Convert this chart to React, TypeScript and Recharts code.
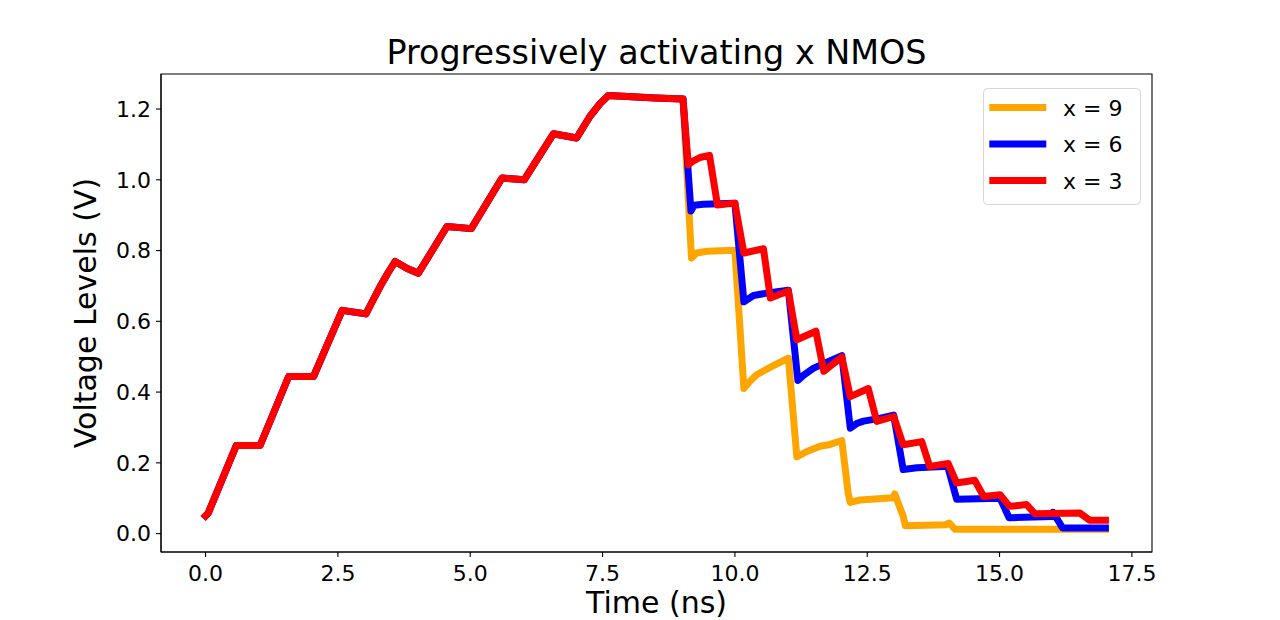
import React from 'react';
import { LineChart, Line, XAxis, YAxis, Legend, Label, ReferenceArea } from 'recharts';

// Shared ramp (all three series identical until ~9 ns)
const RAMP_T = [0.0, 0.05, 0.58, 1.03, 1.57, 2.04, 2.58, 3.03, 3.15, 3.30, 3.45, 3.58, 3.80, 4.02, 4.56, 5.02, 5.60, 6.02, 6.57, 7.01, 7.26, 7.45, 7.61, 8.50, 9.02];
const RAMP_V = [0.050, 0.058, 0.249, 0.249, 0.444, 0.444, 0.631, 0.621, 0.656, 0.699, 0.738, 0.769, 0.750, 0.736, 0.868, 0.862, 1.005, 1.000, 1.130, 1.118, 1.179, 1.215, 1.238, 1.231, 1.228];

// x = 9 (orange)
const X9_T = [9.18, 9.28, 9.47, 10.00, 10.17, 10.28, 10.41, 10.73, 11.01, 11.17, 11.36, 11.61, 11.80, 12.02, 12.14, 12.18, 12.36, 12.99, 13.02, 13.18, 13.22, 13.98, 14.05, 14.16, 17.0];
const X9_V = [0.779, 0.793, 0.798, 0.801, 0.410, 0.430, 0.449, 0.475, 0.496, 0.217, 0.232, 0.247, 0.252, 0.263, 0.115, 0.088, 0.095, 0.101, 0.112, 0.049, 0.022, 0.025, 0.030, 0.012, 0.012];

// x = 6 (blue)
const X6_T = [9.17, 9.23, 9.40, 10.00, 10.17, 10.35, 10.66, 11.01, 11.19, 11.30, 11.48, 11.73, 12.02, 12.18, 12.30, 12.43, 12.71, 13.00, 13.18, 13.44, 14.02, 14.19, 15.01, 15.18, 15.98, 16.01, 16.19, 17.0];
const X6_V = [0.912, 0.928, 0.931, 0.934, 0.655, 0.673, 0.681, 0.688, 0.433, 0.448, 0.467, 0.484, 0.503, 0.298, 0.311, 0.318, 0.325, 0.335, 0.181, 0.186, 0.190, 0.097, 0.100, 0.045, 0.048, 0.060, 0.016, 0.016];

// x = 3 (red)
const X3_T = [9.12, 9.20, 9.34, 9.52, 9.67, 10.00, 10.17, 10.54, 10.67, 11.01, 11.17, 11.53, 11.68, 12.02, 12.18, 12.52, 12.68, 13.00, 13.18, 13.53, 13.68, 14.03, 14.19, 14.53, 14.70, 15.01, 15.19, 15.51, 15.67, 16.52, 16.70, 17.0];
const X3_V = [1.042, 1.052, 1.063, 1.069, 0.929, 0.934, 0.793, 0.805, 0.666, 0.686, 0.548, 0.572, 0.459, 0.499, 0.387, 0.410, 0.317, 0.331, 0.251, 0.260, 0.190, 0.198, 0.143, 0.151, 0.105, 0.110, 0.077, 0.082, 0.056, 0.058, 0.038, 0.038];

const X_TICKS = [0, 2.5, 5, 7.5, 10, 12.5, 15, 17.5];
const Y_TICKS = [0, 0.2, 0.4, 0.6, 0.8, 1.0, 1.2];
const X_DOMAIN = [-0.842, 17.88];
const Y_DOMAIN = [-0.052, 1.299];

const TITLE = 'Progressively activating x NMOS';
const X_LABEL = 'Time (ns)';
const Y_LABEL = 'Voltage Levels (V)';

const SERIES = [
  { name: 'x = 9', color: '#ffa500', t: X9_T, v: X9_V },
  { name: 'x = 6', color: '#0000ff', t: X6_T, v: X6_V },
  { name: 'x = 3', color: '#ff0000', t: X3_T, v: X3_V },
];

const build = (t: number[], v: number[]) => {
  const pts = RAMP_T.map((x, i) => ({ t: x, v: RAMP_V[i] }));
  t.forEach((x, i) => pts.push({ t: x, v: v[i] }));
  return pts;
};

const FONT = '"DejaVu Sans", sans-serif';
const tickStyle = { fontFamily: FONT, fontSize: 22, fill: '#000' };
const axisLine = { stroke: '#000', strokeWidth: 1.1 };
const tickLine = { stroke: '#000', strokeWidth: 1.1 };

const LegendBox = () => (
  <svg width={158} height={117} style={{ display: 'block' }}>
    <rect x={0.5} y={0.5} width={157} height={116} rx={4} ry={4} fill="rgba(255,255,255,0.8)" stroke="#d6d6d6" strokeWidth={1} />
    {SERIES.map((s, i) => {
      const y = 19.6 + i * 36.5;
      return (
        <g key={s.name}>
          <line x1={6.3} x2={63.3} y1={y} y2={y} stroke={s.color} strokeWidth={7} />
          <text x={80} y={y + 8} fontFamily={FONT} fontSize={22} fill="#000">{s.name}</text>
        </g>
      );
    })}
  </svg>
);

export default function App() {
  return (
    <div style={{ position: 'absolute', left: 0, top: 0, width: 1280, height: 620, background: '#fff' }}>
      <LineChart width={1280} height={620} margin={{ top: 74, right: 128, bottom: 0, left: 0 }}>
        <XAxis
          xAxisId="b"
          dataKey="t"
          type="number"
          domain={X_DOMAIN}
          ticks={X_TICKS}
          allowDataOverflow
          tickFormatter={(v: number) => v.toFixed(1)}
          tick={tickStyle}
          tickSize={5}
          tickMargin={8}
          axisLine={axisLine}
          tickLine={tickLine}
          height={68}
        >
          <Label
            content={(p: any) => {
              const vb = p.viewBox;
              return (
                <text x={vb.x + vb.width / 2} y={613} textAnchor="middle" fontFamily={FONT} fontSize={30} fill="#000">
                  {X_LABEL}
                </text>
              );
            }}
          />
        </XAxis>
        <YAxis
          yAxisId="l"
          type="number"
          domain={Y_DOMAIN}
          ticks={Y_TICKS}
          allowDataOverflow
          tickFormatter={(v: number) => v.toFixed(1)}
          tick={tickStyle}
          tickSize={5}
          tickMargin={5}
          axisLine={axisLine}
          tickLine={tickLine}
          width={161}
        >
          <Label
            content={(p: any) => {
              const vb = p.viewBox;
              const cy = vb.y + vb.height / 2;
              return (
                <text x={96} y={cy} transform={`rotate(-90, 96, ${cy})`} textAnchor="middle" fontFamily={FONT} fontSize={30} fill="#000">
                  {Y_LABEL}
                </text>
              );
            }}
          />
        </YAxis>
        <ReferenceArea
          xAxisId="b"
          yAxisId="l"
          x1={X_DOMAIN[0]}
          x2={X_DOMAIN[1]}
          y1={Y_DOMAIN[0]}
          y2={Y_DOMAIN[1]}
          fill="none"
          fillOpacity={0}
          stroke="#000"
          strokeWidth={1.1}
          ifOverflow="extendDomain"
        >
          <Label
            content={(p: any) => {
              const vb = p.viewBox;
              return (
                <text x={vb.x + vb.width / 2} y={64} textAnchor="middle" fontFamily={FONT} fontSize={33.4} fill="#000">
                  {TITLE}
                </text>
              );
            }}
          />
        </ReferenceArea>
        <Legend
          layout="horizontal"
          verticalAlign="middle"
          align="center"
          content={() => <LegendBox />}
          wrapperStyle={{ position: 'absolute', left: 982.5, top: 87.5, width: 158, height: 117 }}
        />
        {SERIES.map((s) => (
          <Line
            key={s.name}
            xAxisId="b"
            yAxisId="l"
            data={build(s.t, s.v)}
            dataKey="v"
            name={s.name}
            type="linear"
            stroke={s.color}
            strokeWidth={7}
            strokeLinejoin="round"
            strokeLinecap="square"
            dot={false}
            activeDot={false}
            isAnimationActive={false}
          />
        ))}
      </LineChart>
    </div>
  );
}
